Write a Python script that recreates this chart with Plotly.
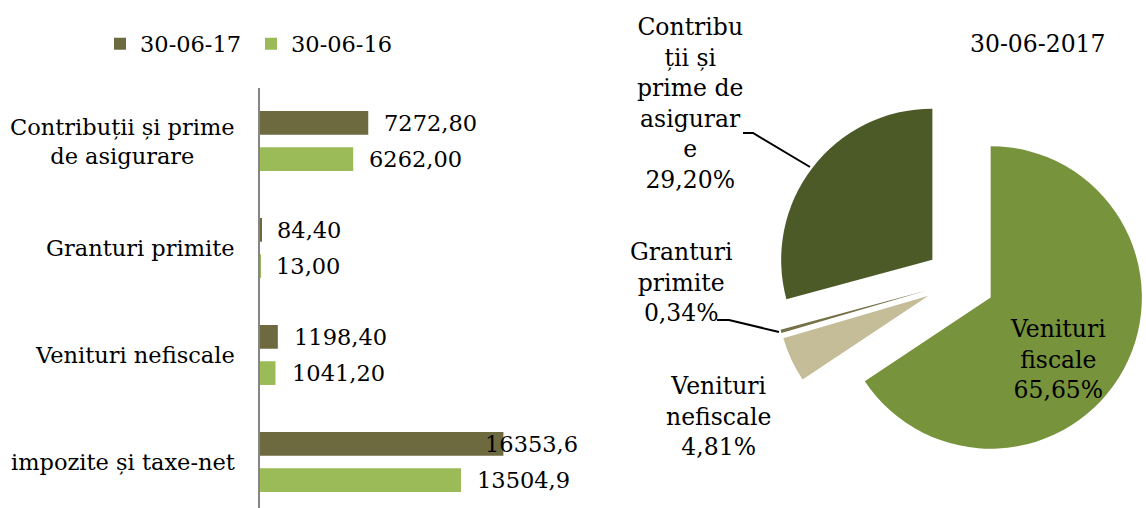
import plotly.graph_objects as go

# ---------------- data ----------------
categories = ["impozite și taxe-net", "Venituri nefiscale", "Granturi primite",
              "Contribuții și prime de asigurare"]
category_labels = ["impozite și taxe-net", "Venituri nefiscale", "Granturi primite",
                   "Contribuții și prime<br>de asigurare"]
series_names = ["30-06-17", "30-06-16"]
values_2017 = [16353.6, 1198.4, 84.4, 7272.8]
values_2016 = [13504.9, 1041.2, 13.0, 6262.0]
labels_2017 = ["16353,6", "1198,40", "84,40", "7272,80"]
labels_2016 = ["13504,9", "1041,20", "13,00", "6262,00"]

pie_title = "30-06-2017"
pie_categories = ["Venituri fiscale", "Venituri nefiscale", "Granturi primite",
                  "Contribuții și prime de asigurare"]
pie_label_lines = ["Venituri<br>fiscale", "Venituri<br>nefiscale", "Granturi<br>primite",
                   "Contribu<br>ții și<br>prime de<br>asigurar<br>e"]
pie_values = [16353.6, 1198.4, 84.4, 7272.8]

# ---------------- layout helpers ----------------
W, H = 1146, 508
FONT = "DejaVu Serif"


def px(x):
    return x / W


def py(y):
    return 1 - y / H


X_LEFT, X_RIGHT = 260, 580
XMAX = 21500
SCALE = (X_RIGHT - X_LEFT) / XMAX

C_DARK = "#6E6A40"
C_LIGHT = "#9BBB59"
PIE_COLORS = ["#77933C", "#C4BD97", "#757047", "#4B5A27"]

fig = go.Figure()

fig.add_bar(y=categories, x=values_2016, orientation="h", name=series_names[1],
            marker=dict(color=C_LIGHT, line=dict(width=0)), legendrank=2,
            hoverinfo="skip")
fig.add_bar(y=categories, x=values_2017, orientation="h", name=series_names[0],
            marker=dict(color=C_DARK, line=dict(width=0)), legendrank=1,
            hoverinfo="skip")

PULL = 0.23
fig.add_trace(go.Pie(
    values=pie_values, labels=pie_categories, sort=False, direction="clockwise",
    rotation=0, pull=[PULL] * len(pie_values), textinfo="none", hoverinfo="skip",
    showlegend=False,
    marker=dict(colors=PIE_COLORS, line=dict(width=0)),
    domain=dict(x=[px(774), 1.0], y=[py(281 + 186), py(281 - 186)]),
))

annotations = []
SLOT = 18.1
for vals, labs, shift in ((values_2017, labels_2017, SLOT), (values_2016, labels_2016, -SLOT)):
    for cat, v, lab in zip(categories, vals, labs):
        end_px = X_LEFT + v * SCALE + 16 + len(lab) * 14.3
        if end_px > X_RIGHT:
            annotations.append(dict(x=XMAX, y=cat, xref="x", yref="y", text=lab,
                                    showarrow=False, xanchor="right", yshift=shift,
                                    font=dict(family=FONT, size=22.5, color="black")))
        else:
            annotations.append(dict(x=v, y=cat, xref="x", yref="y", text=lab,
                                    showarrow=False, xanchor="left", xshift=14, yshift=shift,
                                    font=dict(family=FONT, size=22.5, color="black")))

for cat, lab in zip(categories, category_labels):
    annotations.append(dict(x=px(237), y=cat, xref="paper", yref="y", text=lab,
                            showarrow=False, xanchor="right", align="center",
                            font=dict(family=FONT, size=22.5, color="black")))

total = sum(pie_values)
pcts = [f"{v / total * 100:.2f}".replace(".", ",") + "%" for v in pie_values]
pie_label_pos = [(1058, 359), (718, 416), (681, 282), (690, 104)]
for lines, pct, (lx, ly) in zip(pie_label_lines, pcts, pie_label_pos):
    annotations.append(dict(x=px(lx), y=py(ly), xref="paper", yref="paper",
                            text=f"{lines}<br>{pct}", showarrow=False,
                            xanchor="center", yanchor="middle", align="center",
                            font=dict(family=FONT, size=23.5, color="black")))

annotations.append(dict(x=px(1038), y=py(44), xref="paper", yref="paper", text=pie_title,
                        showarrow=False, xanchor="center", yanchor="middle",
                        font=dict(family=FONT, size=23.5, color="black")))

shapes = [
    dict(type="path", xref="paper", yref="paper",
         path=f"M {px(743)},{py(133)} L {px(753)},{py(133)} L {px(810)},{py(167)}",
         line=dict(color="black", width=2)),
    dict(type="path", xref="paper", yref="paper",
         path=f"M {px(717)},{py(320)} L {px(729)},{py(320)} L {px(779)},{py(332)}",
         line=dict(color="black", width=2)),
]

fig.update_layout(
    width=W, height=H,
    margin=dict(l=0, r=0, t=0, b=0),
    paper_bgcolor="white", plot_bgcolor="white",
    barmode="group", bargap=0.323, bargroupgap=0.345,
    font=dict(family=FONT, size=22.5, color="black"),
    xaxis=dict(domain=[px(X_LEFT), px(X_RIGHT)], range=[0, XMAX], visible=False,
               fixedrange=True),
    yaxis=dict(domain=[0, py(87.5)], range=[-0.43, 3.5], type="category",
               categoryorder="array", categoryarray=categories,
               showticklabels=False, ticks="", showgrid=False, zeroline=False,
               showline=True, linecolor="#858585", linewidth=2, fixedrange=True),
    legend=dict(orientation="h", x=px(100), y=py(44), xanchor="left", yanchor="middle",
                font=dict(family=FONT, size=22.5, color="black"),
                bgcolor="rgba(0,0,0,0)", itemwidth=30,
                entrywidth=106, entrywidthmode="pixels"),
    annotations=annotations,
    shapes=shapes,
)

fig.write_html("out.html", config={"displayModeBar": False},
               post_script="document.body.style.margin='0px';")
